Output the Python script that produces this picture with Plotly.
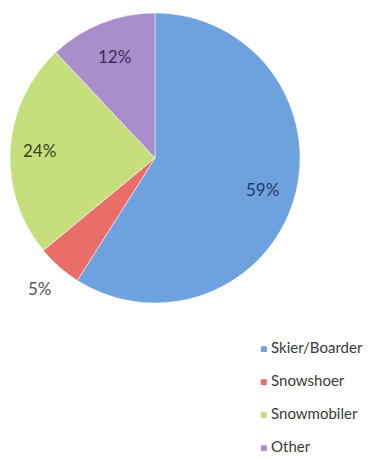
import math
import plotly.graph_objects as go

# Share of users by activity
categories = ["Skier/Boarder", "Snowshoer", "Snowmobiler", "Other"]
shares = [59, 5, 24, 12]
slice_colors = ["#6ea2de", "#e96d69", "#c6de7c", "#a88ecb"]
label_colors = ["#1e3a66", "#555555", "#36451a", "#3a2c58"]
# radial position of each percentage label, as a fraction of the radius
label_radius = [0.77, 1.2, 0.8, 0.75]

W, H = 373, 460
# pie domain in pixels (left, right, top, bottom)
px_l, px_r, px_t, px_b = 10, 300, 13, 303

fig = go.Figure()

fig.add_trace(go.Pie(
    labels=categories,
    values=shares,
    sort=False,
    direction="clockwise",
    rotation=0,
    marker=dict(colors=slice_colors, line=dict(color="#ffffff", width=0.5)),
    textinfo="none",
    hoverinfo="label+percent",
    showlegend=False,
    domain=dict(x=[px_l / W, px_r / W], y=[1 - px_b / H, 1 - px_t / H]),
))

# Percentage labels placed along each slice's bisector
cx = (px_l + px_r) / 2
cy = (px_t + px_b) / 2
R = (px_r - px_l) / 2
total = sum(shares)
start = 0.0
for val, col, rf in zip(shares, label_colors, label_radius):
    mid = (start + val / 2) / total * 2 * math.pi
    start += val
    x = cx + rf * R * math.sin(mid)
    y = cy - rf * R * math.cos(mid)
    fig.add_annotation(
        x=x / W, y=1 - y / H, xref="paper", yref="paper",
        text=f"{val}%", showarrow=False,
        font=dict(family="Lato, sans-serif", size=17, color=col),
        xanchor="center", yanchor="middle",
    )

# Legend entries, one group each so the gap between them can be set
for name, color in zip(categories, slice_colors):
    fig.add_trace(go.Scatter(
        x=[None], y=[None],
        mode="markers",
        marker=dict(symbol="square", size=1, color="rgba(0,0,0,0)"),
        name=f'<span style="color:{color};font-size:12px">■</span> {name}',
        legendgroup=name,
        showlegend=True,
    ))

fig.update_layout(
    width=W, height=H,
    margin=dict(l=0, r=0, t=0, b=0, autoexpand=False),
    paper_bgcolor="#ffffff",
    plot_bgcolor="#ffffff",
    xaxis=dict(visible=False),
    yaxis=dict(visible=False),
    legend=dict(
        x=220 / W, xanchor="left",
        y=1 - 331 / H, yanchor="top",
        font=dict(family="Lato, sans-serif", size=15, color="#3a3a3a"),
        tracegroupgap=10.5,
        itemwidth=30,
        bgcolor="rgba(0,0,0,0)",
    ),
)

fig.write_html("out.html")
